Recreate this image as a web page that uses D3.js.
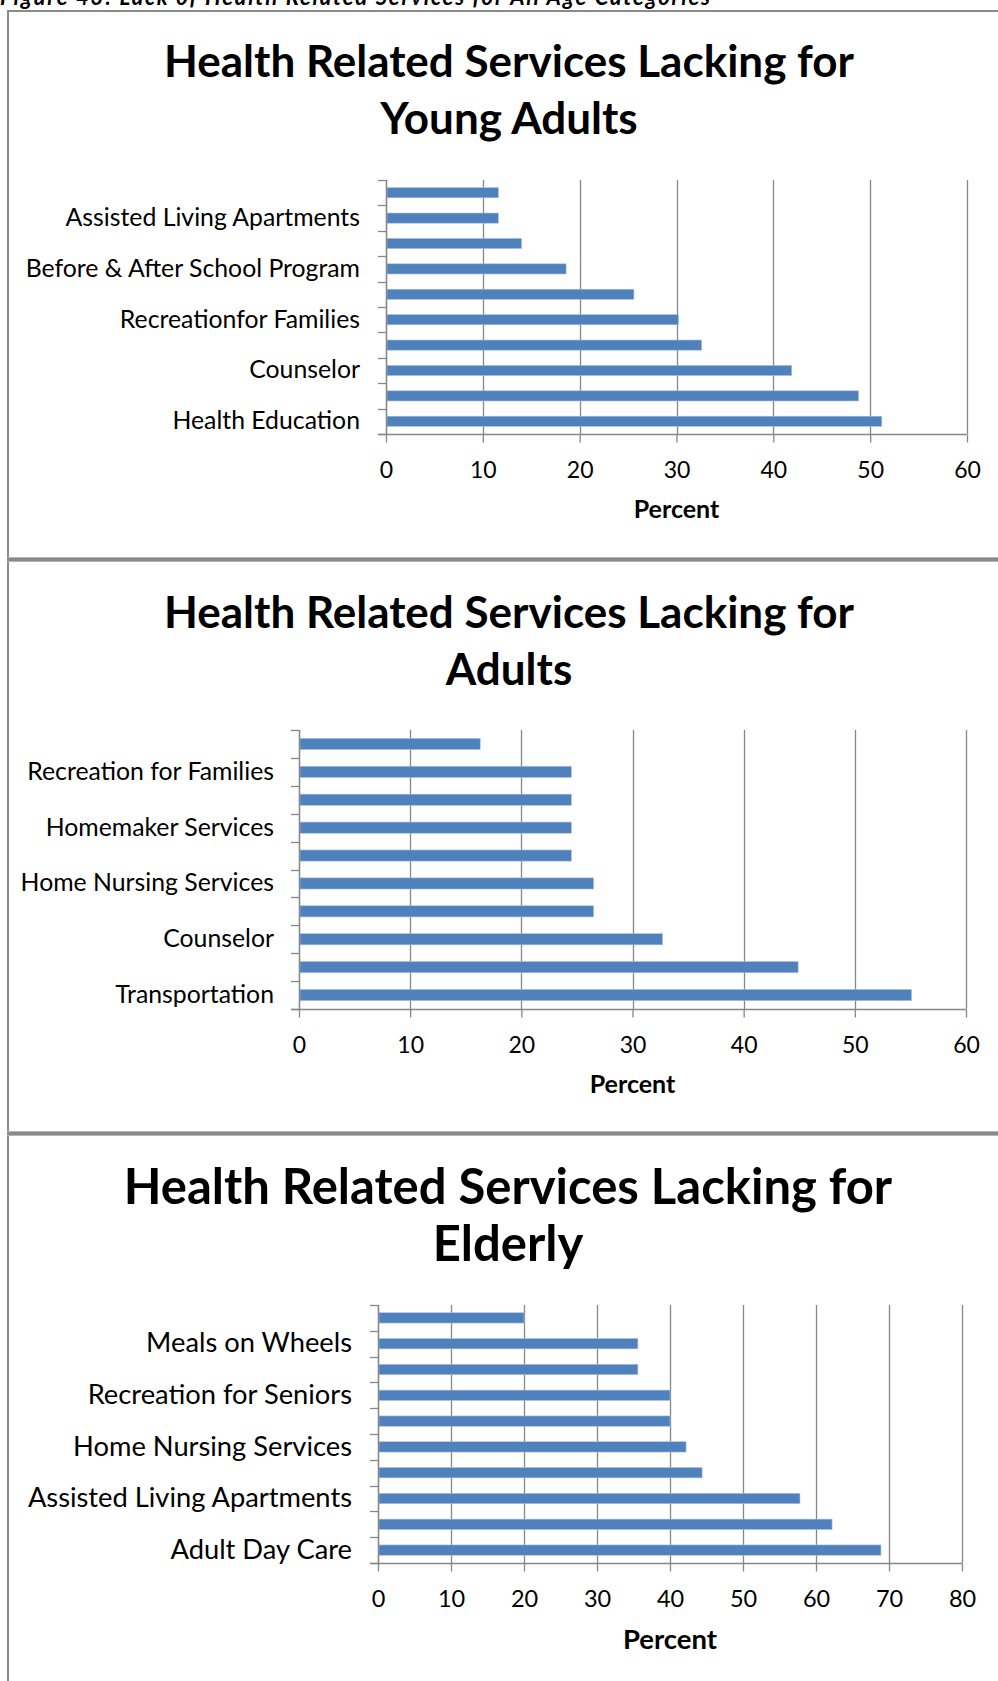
<!DOCTYPE html>
<html>
<head>
<meta charset="utf-8">
<script src="https://cdn.jsdelivr.net/npm/d3@7"></script>
<style>
  html, body { margin: 0; padding: 0; background: #fff; }
  svg { display: block; }
  text { font-family: Lato, "Open Sans", sans-serif; fill: #000; }
</style>
</head>
<body>
<svg id="chart" width="998" height="1681"></svg>
<script>
// ---------------- DATA ----------------
const caption = "Figure 43: Lack of Health Related Services for All Age Categories";

const youngTitle = ["Health Related Services Lacking for", "Young Adults"];
const youngCategories = ["", "Assisted Living Apartments", "", "Before & After School Program", "",
  "Recreationfor Families", "", "Counselor", "", "Health Education"];
const youngValues = [11.6, 11.6, 14.0, 18.6, 25.6, 30.2, 32.6, 41.9, 48.8, 51.2];
const youngTicks = [0, 10, 20, 30, 40, 50, 60];

const adultTitle = ["Health Related Services Lacking for", "Adults"];
const adultCategories = ["", "Recreation for Families", "", "Homemaker Services", "",
  "Home Nursing Services", "", "Counselor", "", "Transportation"];
const adultValues = [16.3, 24.5, 24.5, 24.5, 24.5, 26.5, 26.5, 32.7, 44.9, 55.1];
const adultTicks = [0, 10, 20, 30, 40, 50, 60];

const elderTitle = ["Health Related Services Lacking for", "Elderly"];
const elderCategories = ["", "Meals on Wheels", "", "Recreation for Seniors", "",
  "Home Nursing Services", "", "Assisted Living Apartments", "", "Adult Day Care"];
const elderValues = [20.0, 35.6, 35.6, 40.0, 40.0, 42.2, 44.4, 57.8, 62.2, 68.9];
const elderTicks = [0, 10, 20, 30, 40, 50, 60, 70, 80];

const axisTitle = "Percent";

// ---------------- LAYOUT ----------------
const svg = d3.select("#chart");
const frameColor = "#8a8a8a";
const gridColor = "#878787";
const barColor = "#4F81BD";

// caption (mostly cut off at top, as in the source page)
svg.append("text").attr("x", 0).attr("y", 5)
  .attr("textLength", 710).attr("lengthAdjust", "spacing")
  .style("font-weight", "bold").style("font-style", "italic").style("font-size", "22px")
  .text(caption);

// frame
svg.append("rect").attr("x", 7).attr("y", 10).attr("width", 2).attr("height", 1681).attr("fill", frameColor);
svg.append("rect").attr("x", 7).attr("y", 10).attr("width", 991).attr("height", 2).attr("fill", frameColor);
[557, 1131].forEach(y => {
  svg.append("rect").attr("x", 7).attr("y", y).attr("width", 991).attr("height", 5).attr("fill", "#b4b4b4");
  svg.append("rect").attr("x", 7).attr("y", y + 1).attr("width", 991).attr("height", 3).attr("fill", frameColor);
});

function drawPanel(cfg) {
  const g = svg.append("g");
  // title
  cfg.title.forEach((t, i) => {
    g.append("text").attr("x", cfg.titleX).attr("y", cfg.titleY[i]).attr("dy", "0.36em")
      .attr("text-anchor", "middle")
      .style("font-weight", "bold").style("font-size", cfg.titleSize + "px")
      .text(t);
  });

  const x = d3.scaleLinear().domain([0, d3.max(cfg.ticks)]).range([cfg.x0, cfg.x1]);
  const y = d3.scaleBand().domain(d3.range(cfg.categories.length)).range([cfg.top, cfg.bottom]).padding(0);
  const barH = y.bandwidth() / 2.5;

  // gridlines
  g.append("g").selectAll("line").data(cfg.ticks).join("line")
    .attr("x1", d => Math.round(x(d)) + 0.5).attr("x2", d => Math.round(x(d)) + 0.5)
    .attr("y1", cfg.top).attr("y2", cfg.bottom)
    .attr("stroke", gridColor).attr("stroke-width", 1.3);

  // bars
  g.append("g").selectAll("rect").data(cfg.values).join("rect")
    .attr("x", x(0) + 1)
    .attr("y", (d, i) => y(i) + (y.bandwidth() - barH) / 2)
    .attr("width", d => x(d) - x(0) - 1)
    .attr("height", barH)
    .attr("fill", barColor)
    .attr("stroke", "#a9c0de").attr("stroke-width", 0.6);

  // y axis: line + boundary ticks + labels
  const yAxisG = g.append("g");
  yAxisG.append("line").attr("x1", Math.round(x(0)) + 0.5).attr("x2", Math.round(x(0)) + 0.5)
    .attr("y1", cfg.top).attr("y2", cfg.bottom).attr("stroke", gridColor).attr("stroke-width", 1.3);
  const bounds = d3.range(cfg.categories.length + 1).map(i => cfg.top + i * y.step());
  yAxisG.selectAll("line.tk").data(bounds).join("line").attr("class", "tk")
    .attr("x1", x(0) - 8).attr("x2", x(0)).attr("y1", d => Math.round(d) + 0.5).attr("y2", d => Math.round(d) + 0.5)
    .attr("stroke", gridColor).attr("stroke-width", 1.3);
  const yAxis = d3.axisLeft(y).tickSize(0).tickPadding(0).tickFormat(i => cfg.categories[i]);
  const ya = g.append("g").attr("transform", `translate(${x(0) - cfg.labelGap},0)`).call(yAxis);
  ya.select(".domain").remove();
  ya.selectAll("text").style("font-size", cfg.labelSize + "px").attr("fill", "#000")
    .style("font-family", "Lato, sans-serif");

  // x axis
  const xAxis = d3.axisBottom(x).tickValues(cfg.ticks).tickSize(8).tickSizeOuter(0).tickPadding(cfg.tickPad);
  const xa = g.append("g").attr("transform", `translate(0,${Math.round(cfg.bottom) + 0.5})`).call(xAxis);
  xa.select(".domain").attr("stroke", gridColor).attr("stroke-width", 1.3)
    .attr("d", `M${x(0) - 8},0H${x.range()[1]}`);
  xa.selectAll(".tick line").attr("stroke", gridColor).attr("stroke-width", 1.3);
  xa.selectAll("text").style("font-size", cfg.tickSize + "px").attr("fill", "#000")
    .style("font-family", "Lato, sans-serif");

  // axis title
  g.append("text").attr("x", (cfg.x0 + cfg.x1) / 2).attr("y", cfg.bottom + cfg.axisTitleOffset).attr("dy", "0.36em")
    .attr("text-anchor", "middle").style("font-weight", "bold").style("font-size", cfg.axisTitleSize + "px")
    .text(axisTitle);
}

drawPanel({
  title: youngTitle, titleX: 509, titleY: [61, 118], titleSize: 44,
  categories: youngCategories, values: youngValues, ticks: youngTicks,
  x0: 386, x1: 967, top: 180, bottom: 434,
  labelGap: 26, labelSize: 24.8, tickSize: 23, tickPad: 19, axisTitleOffset: 75, axisTitleSize: 25
});
drawPanel({
  title: adultTitle, titleX: 509, titleY: [612, 669], titleSize: 44,
  categories: adultCategories, values: adultValues, ticks: adultTicks,
  x0: 299, x1: 966, top: 730, bottom: 1009,
  labelGap: 25, labelSize: 24.8, tickSize: 23, tickPad: 19, axisTitleOffset: 75, axisTitleSize: 25
});
drawPanel({
  title: elderTitle, titleX: 508, titleY: [1186, 1243], titleSize: 49,
  categories: elderCategories, values: elderValues, ticks: elderTicks,
  x0: 378, x1: 962, top: 1305, bottom: 1563,
  labelGap: 26, labelSize: 27.3, tickSize: 23.5, tickPad: 19, axisTitleOffset: 76, axisTitleSize: 27.5
});
</script>
</body>
</html>
